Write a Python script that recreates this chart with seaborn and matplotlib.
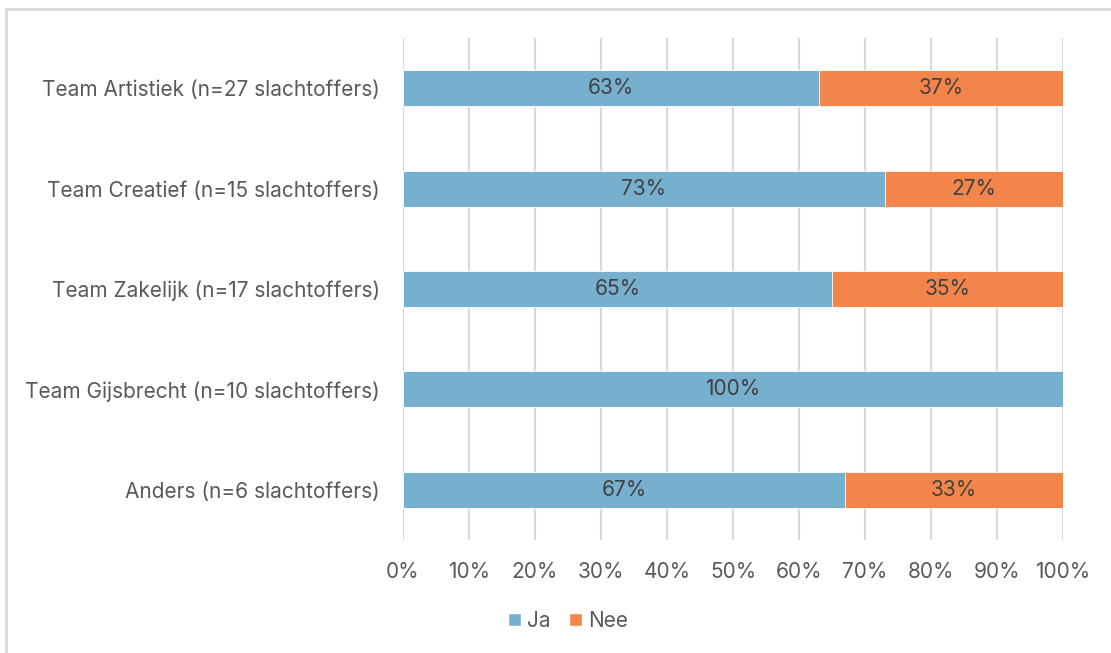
import numpy as np
import pandas as pd
import seaborn as sns
import matplotlib.pyplot as plt
from matplotlib.patches import Rectangle, Patch

teams = ["Team Artistiek (n=27 slachtoffers)",
         "Team Creatief (n=15 slachtoffers)",
         "Team Zakelijk (n=17 slachtoffers)",
         "Team Gijsbrecht (n=10 slachtoffers)",
         "Anders (n=6 slachtoffers)"]
ja = [63, 73, 65, 100, 67]
nee = [37, 27, 35, 0, 33]
xticks = list(range(0, 101, 10))

blue = "#77B0CF"
orange = "#F4854A"
grey_txt = "#595959"
grid_col = "#D9D9D9"
fs = 15

sns.set_theme(style="white")
plt.rcParams["font.family"] = ["Inter", "DejaVu Sans"]

df = pd.DataFrame({"team": teams, "Ja": ja, "Nee": nee})
df["total"] = df["Ja"] + df["Nee"]

fig = plt.figure(figsize=(11.11, 6.53), dpi=100)
ax = fig.add_axes([403 / 1111, 1 - 540 / 653, 660 / 1111, 502 / 653])

# stacked: total in orange, Ja over it in blue
sns.barplot(data=df, x="total", y="team", color=orange, width=0.36,
            saturation=1, ax=ax, edgecolor="white", linewidth=0.6, zorder=2)
sns.barplot(data=df, x="Ja", y="team", color=blue, width=0.36,
            saturation=1, ax=ax, edgecolor="white", linewidth=0.6, zorder=3)

for i, (j, n) in enumerate(zip(ja, nee)):
    if j > 0:
        ax.text(j / 2, i, f"{j}%", ha="center", va="center",
                fontsize=fs, color="#404040", zorder=4)
    if n > 0:
        ax.text(j + n / 2, i, f"{n}%", ha="center", va="center",
                fontsize=fs, color="#404040", zorder=4)

ax.set_xlim(0, 100)
ax.set_ylim(4.5, -0.5)
ax.set_xticks(xticks)
ax.set_xticklabels([f"{t}%" for t in xticks])
ax.xaxis.grid(True, color=grid_col, linewidth=1.5, zorder=0)
ax.set_axisbelow(True)
ax.set_xlabel("")
ax.set_ylabel("")
for s in ax.spines.values():
    s.set_visible(False)
ax.tick_params(axis="both", length=0, labelsize=fs, colors=grey_txt)
ax.tick_params(axis="x", pad=16)
ax.tick_params(axis="y", pad=16.5)

handles = [Patch(facecolor=blue, label="Ja"), Patch(facecolor=orange, label="Nee")]
fig.legend(handles=handles, loc="center", bbox_to_anchor=(568 / 1111, 1 - 621 / 653),
           ncol=2, frameon=False, fontsize=fs, labelcolor=grey_txt,
           handlelength=0.6, handleheight=0.6, handletextpad=0.3, columnspacing=0.9)

# chart border
fig.patches.append(Rectangle((6 / 1111, -0.05), 1.2, 1 - 9 / 653 + 0.05,
                             transform=fig.transFigure, fill=False,
                             edgecolor=grid_col, linewidth=2))

fig.savefig("out.png", dpi=100)
